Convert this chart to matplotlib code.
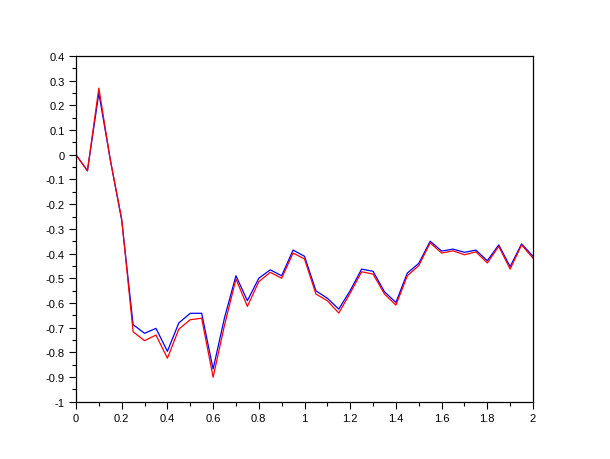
import numpy as np
import matplotlib
matplotlib.use('Agg')
import matplotlib.pyplot as plt
from matplotlib.ticker import MultipleLocator, FuncFormatter

# sample times (0 .. 2 step 0.05)
t = np.linspace(0, 2, 41)

red = [0.0, -0.065, 0.27, -0.02, -0.26, -0.717, -0.753, -0.73, -0.824, -0.706,
       -0.668, -0.662, -0.901, -0.69, -0.503, -0.614, -0.514, -0.476, -0.50, -0.398,
       -0.422, -0.564, -0.591, -0.641, -0.56, -0.474, -0.483, -0.564, -0.609, -0.49,
       -0.449, -0.357, -0.398, -0.389, -0.405, -0.393, -0.438, -0.371, -0.463, -0.365,
       -0.419]
blue = [0.0, -0.065, 0.25, -0.02, -0.265, -0.688, -0.723, -0.703, -0.796, -0.681,
        -0.642, -0.642, -0.868, -0.66, -0.49, -0.591, -0.50, -0.466, -0.49, -0.386,
        -0.411, -0.551, -0.581, -0.625, -0.55, -0.463, -0.472, -0.555, -0.598, -0.479,
        -0.44, -0.35, -0.39, -0.382, -0.395, -0.386, -0.429, -0.365, -0.453, -0.361,
        -0.411]

plt.rcParams.update({'font.family': 'Liberation Sans', 'font.size': 8})

fig = plt.figure(figsize=(6.1, 4.6), dpi=100)
ax = fig.add_axes([76 / 610, 1 - 402.7 / 460, (533 - 76) / 610, (402.7 - 57) / 460])

ax.plot(t, blue, color='#0000ff', lw=0.9)
ax.plot(t, red, color='#ff0000', lw=0.9)

ax.set_xlim(0, 2)
ax.set_ylim(-1, 0.4)
ax.xaxis.set_major_locator(MultipleLocator(0.2))
ax.xaxis.set_minor_locator(MultipleLocator(0.1))
ax.yaxis.set_major_locator(MultipleLocator(0.1))
ax.yaxis.set_minor_locator(MultipleLocator(0.05))
fmt = FuncFormatter(lambda v, p: '%g' % round(v, 2))
ax.xaxis.set_major_formatter(fmt)
ax.yaxis.set_major_formatter(fmt)
ax.tick_params(which='major', length=5, width=0.8, direction='out', pad=3)
ax.tick_params(which='minor', length=3, width=0.8, direction='out')
for s in ax.spines.values():
    s.set_linewidth(0.9)

fig.savefig('out.png', dpi=100, facecolor='white')
